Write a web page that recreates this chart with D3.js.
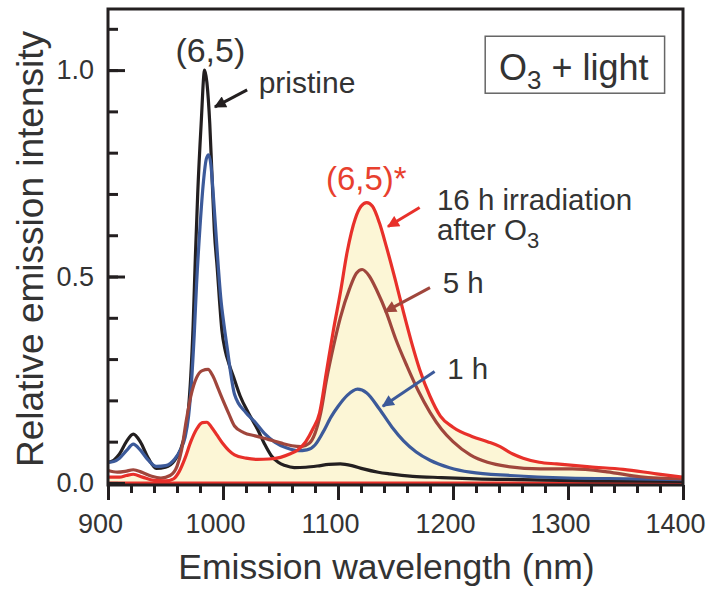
<!DOCTYPE html>
<html>
<head>
<meta charset="utf-8">
<script src="https://cdn.jsdelivr.net/npm/d3@7"></script>
<style>
    body { margin: 0; background: #fff; }
    #chart-area { width: 709px; height: 590px; }
    text { font-family: "Liberation Sans", Arial, sans-serif; fill: #333; }
</style>
</head>
<body>
<div id="chart-area"></div>
<script>

// [wavelength (nm), relative intensity]
const pristine = [
    [900, .05], [905, .055], [910, .07], [916, .1], [922, .118], [928, .1], [935, .06], [942, .035],
    [950, .038], [958, .055], [963, .08], [967, .12], [970, .18], [972, .26], [974, .38], [976, .55],
    [978, .7], [981, .87], [984, 1.0], [986, .97], [988.5, .87], [990.5, .74], [992.5, .61], [995, .52],
    [997, .44], [999, .37], [1002, .32], [1005, .29], [1010, .25], [1015, .21], [1022, .17], [1030, .13],
    [1036, .095], [1042, .066], [1048, .05], [1054, .042], [1062, .037], [1072, .038], [1082, .041],
    [1092, .045], [1102, .046], [1112, .042], [1122, .034], [1135, .026], [1145, .022], [1165, .016],
    [1190, .013], [1220, .01], [1260, .008], [1320, .005], [1400, .004]
];

const oneHour = [
    [900, .05], [905, .052], [910, .06], [916, .078], [922, .094], [928, .08], [935, .055], [942, .04],
    [950, .042], [958, .058], [963, .08], [967, .11], [970, .16], [972.5, .24], [975, .36], [977, .48],
    [980, .62], [983, .73], [985.5, .785], [987.5, .795], [989.5, .77], [991.5, .7], [993.5, .62],
    [996, .52], [998, .45], [1001, .38], [1004, .32], [1007, .26], [1010, .215], [1020, .17],
    [1028, .147], [1036, .12], [1045, .099], [1055, .085], [1065, .078], [1073, .08], [1080, .092],
    [1087, .123], [1094, .16], [1100, .185], [1108, .212], [1117, .227], [1125, .218], [1136, .179],
    [1147, .135], [1157, .102], [1168, .075], [1180, .055], [1197, .037], [1215, .026], [1250, .018],
    [1300, .012], [1360, .01], [1400, .008]
];

const fiveHours = [
    [900, .03], [908, .026], [915, .028], [922, .032], [930, .025], [938, .016], [946, .012], [954, .018],
    [960, .04], [964, .08], [968, .15], [972, .21], [977, .255], [982, .272], [987, .275], [991, .26],
    [996, .227], [1000, .2], [1005, .168], [1010, .138], [1018, .122], [1028, .114], [1040, .105],
    [1050, .097], [1060, .09], [1068, .088], [1075, .096], [1080, .12], [1085, .17], [1090, .25],
    [1096, .33], [1102, .4], [1110, .47], [1116, .508], [1121, .517], [1127, .502], [1134, .465],
    [1142, .413], [1150, .35], [1160, .283], [1170, .222], [1180, .171], [1190, .13], [1200, .1],
    [1215, .068], [1230, .05], [1247, .04], [1276, .034], [1304, .034], [1334, .027], [1363, .015],
    [1400, .01]
];

const sixteenHours = [
    [900, .014], [910, .014], [916, .018], [922, .021], [930, .014], [940, .006], [950, .005], [957, .01],
    [962, .028], [967, .06], [972, .1], [977, .13], [982, .146], [986, .147], [990, .135], [995, .115],
    [1000, .095], [1005, .079], [1010, .068], [1020, .06], [1030, .057], [1040, .058], [1050, .062],
    [1058, .07], [1065, .08], [1072, .1], [1078, .13], [1084, .17], [1090, .27], [1096, .37],
    [1102, .46], [1108, .56], [1115, .64], [1120, .67], [1125, .679], [1130, .67], [1136, .63],
    [1142, .573], [1150, .49], [1157, .413], [1164, .34], [1171, .275], [1180, .21], [1189, .162],
    [1200, .135], [1217, .112], [1230, .1], [1241, .088], [1252, .07], [1261, .06], [1275, .05],
    [1290, .046], [1319, .039], [1348, .033], [1377, .022], [1400, .014]
];

// tick values
const xMajorTicks = [900, 1000, 1100, 1200, 1300, 1400];
const xMinorTicks = d3.range(900, 1401, 20);
const yMajorTicks = [0, 0.5, 1.0];
const yMinorTicks = d3.range(0, 1.11, 0.1);

class emissionChart {

    constructor(parentElement) {
        this.parentElement = parentElement;
        this.initVis();
    }

    initVis() {
        let vis = this;

        vis.margin = {top: 9, right: 26, bottom: 105, left: 108};
        vis.width = 709 - vis.margin.left - vis.margin.right;
        vis.height = 590 - vis.margin.top - vis.margin.bottom;

        vis.svg = d3.select("#" + vis.parentElement).append("svg")
            .attr("width", 709)
            .attr("height", 590)
            .append("g")
            .attr("transform", `translate(${vis.margin.left}, ${vis.margin.top})`);

        // arrow heads
        let defs = vis.svg.append("defs");
        [["blk", "#231f20"], ["red", "#e8302a"], ["brn", "#a0463c"], ["blu", "#3c5a9a"]].forEach(m => {
            defs.append("marker")
                .attr("id", "arrow-" + m[0])
                .attr("viewBox", "0 0 10 10")
                .attr("refX", 9).attr("refY", 5)
                .attr("markerUnits", "userSpaceOnUse")
                .attr("markerWidth", 14).attr("markerHeight", 12)
                .attr("orient", "auto")
                .append("path")
                .attr("d", "M0,0 L10,5 L0,10 Z")
                .attr("fill", m[1]);
        });

        // scales
        vis.x = d3.scaleLinear().domain([900, 1400]).range([0, vis.width]);
        vis.y = d3.scaleLinear().domain([-0.005, 1.148]).range([vis.height, 0]);

        // fill under 16 h curve
        vis.area = d3.area()
            .x(d => vis.x(d[0]))
            .y0(vis.y(0))
            .y1(d => vis.y(d[1]))
            .curve(d3.curveMonotoneX);

        vis.svg.append("path")
            .datum(sixteenHours)
            .attr("d", vis.area)
            .attr("fill", "#fcf6d6");

        // baseline in red
        vis.svg.append("line")
            .attr("x1", vis.x(900)).attr("x2", vis.x(1400))
            .attr("y1", vis.y(0)).attr("y2", vis.y(0))
            .attr("stroke", "#e8302a")
            .attr("stroke-width", 3);

        vis.line = d3.line()
            .x(d => vis.x(d[0]))
            .y(d => vis.y(d[1]))
            .curve(d3.curveMonotoneX);

        let series = [
            {data: pristine, color: "#231f20"},
            {data: oneHour, color: "#3c5a9a"},
            {data: fiveHours, color: "#a0463c"},
            {data: sixteenHours, color: "#e8302a"}
        ];

        vis.svg.selectAll(".spectrum")
            .data(series)
            .enter().append("path")
            .attr("class", "spectrum")
            .attr("d", d => vis.line(d.data))
            .attr("fill", "none")
            .attr("stroke", d => d.color)
            .attr("stroke-width", 3.2)
            .attr("stroke-linejoin", "round");

        // axes
        let xMinor = vis.svg.append("g")
            .attr("transform", `translate(0, ${vis.height})`)
            .call(d3.axisBottom(vis.x).tickValues(xMinorTicks).tickSize(8).tickFormat(""));
        let xMajor = vis.svg.append("g")
            .attr("transform", `translate(0, ${vis.height})`)
            .call(d3.axisBottom(vis.x).tickValues(xMajorTicks).tickSize(15).tickPadding(14).tickFormat(d3.format("d")));

        let yMinor = vis.svg.append("g")
            .call(d3.axisLeft(vis.y).tickValues(yMinorTicks).tickSize(-10).tickFormat(""));
        let yMajor = vis.svg.append("g")
            .call(d3.axisLeft(vis.y).tickValues(yMajorTicks).tickSize(-17).tickPadding(14).tickFormat(d3.format(".1f")));

        [xMinor, xMajor, yMinor, yMajor].forEach(g => {
            g.select(".domain").remove();
            g.selectAll("line").attr("stroke", "#231f20").attr("stroke-width", 3);
            g.selectAll("text").attr("font-size", 27).attr("fill", "#333")
                .attr("font-family", '"Liberation Sans", Arial, sans-serif');
        });
        // x labels sit a little left of their ticks in the original
        xMajor.selectAll("text").attr("dx", -8);

        // frame
        vis.svg.append("rect")
            .attr("width", vis.width)
            .attr("height", vis.height)
            .attr("fill", "none")
            .attr("stroke", "#231f20")
            .attr("stroke-width", 3);

        // axis titles
        vis.svg.append("text")
            .attr("x", vis.width / 2 - 9)
            .attr("y", vis.height + 94)
            .attr("text-anchor", "middle")
            .attr("font-size", 35.5)
            .text("Emission wavelength (nm)");

        vis.svg.append("text")
            .attr("transform", `translate(-65, ${vis.height / 2 + 2}) rotate(-90)`)
            .attr("text-anchor", "middle")
            .attr("font-size", 37)
            .text("Relative emission intensity");

        // annotations, placed in data units
        vis.svg.append("text")
            .attr("x", vis.x(989)).attr("y", vis.y(1.02))
            .attr("text-anchor", "middle")
            .attr("font-size", 34)
            .text("(6,5)");

        vis.svg.append("text")
            .attr("x", vis.x(1031)).attr("y", vis.y(0.944))
            .attr("font-size", 30)
            .text("pristine");

        vis.svg.append("text")
            .attr("x", vis.x(1089.5)).attr("y", vis.y(0.71))
            .attr("font-size", 33)
            .style("fill", "#e8402e")
            .text("(6,5)*");

        vis.svg.append("text")
            .attr("x", vis.x(1186)).attr("y", vis.y(0.662))
            .attr("font-size", 29.5)
            .text("16 h irradiation");

        let after = vis.svg.append("text")
            .attr("x", vis.x(1186)).attr("y", vis.y(0.589))
            .attr("font-size", 29.5);
        after.append("tspan").text("after O");
        after.append("tspan").attr("dy", 8).attr("font-size", 22).text("3");

        vis.svg.append("text")
            .attr("x", vis.x(1191)).attr("y", vis.y(0.461))
            .attr("font-size", 29.5)
            .text("5 h");

        vis.svg.append("text")
            .attr("x", vis.x(1195)).attr("y", vis.y(0.251))
            .attr("font-size", 29.5)
            .text("1 h");

        // arrows
        let arrows = [
            {from: [1021, 0.952], to: [993, 0.911], id: "blk", color: "#231f20"},
            {from: [1171, 0.667], to: [1143.5, 0.621], id: "red", color: "#e8302a"},
            {from: [1180, 0.473], to: [1141, 0.415], id: "brn", color: "#a0463c"},
            {from: [1184, 0.27], to: [1139, 0.186], id: "blu", color: "#3c5a9a"}
        ];
        vis.svg.selectAll(".arrow")
            .data(arrows)
            .enter().append("line")
            .attr("class", "arrow")
            .attr("x1", d => vis.x(d.from[0])).attr("y1", d => vis.y(d.from[1]))
            .attr("x2", d => vis.x(d.to[0])).attr("y2", d => vis.y(d.to[1]))
            .attr("stroke", d => d.color)
            .attr("stroke-width", 3)
            .attr("marker-end", d => `url(#arrow-${d.id})`);

        // legend box
        vis.svg.append("rect")
            .attr("x", vis.x(1228)).attr("y", vis.y(1.082))
            .attr("width", vis.x(1384) - vis.x(1228))
            .attr("height", vis.y(0.944) - vis.y(1.082))
            .attr("fill", "#fff")
            .attr("stroke", "#666")
            .attr("stroke-width", 1.5);

        let box = vis.svg.append("text")
            .attr("x", vis.x(1240)).attr("y", vis.y(0.975))
            .attr("font-size", 36);
        box.append("tspan").text("O");
        box.append("tspan").attr("dy", 9).attr("font-size", 26).text("3");
        box.append("tspan").attr("dy", -9).text(" + light");
    }
}

new emissionChart("chart-area");

</script>
</body>
</html>
